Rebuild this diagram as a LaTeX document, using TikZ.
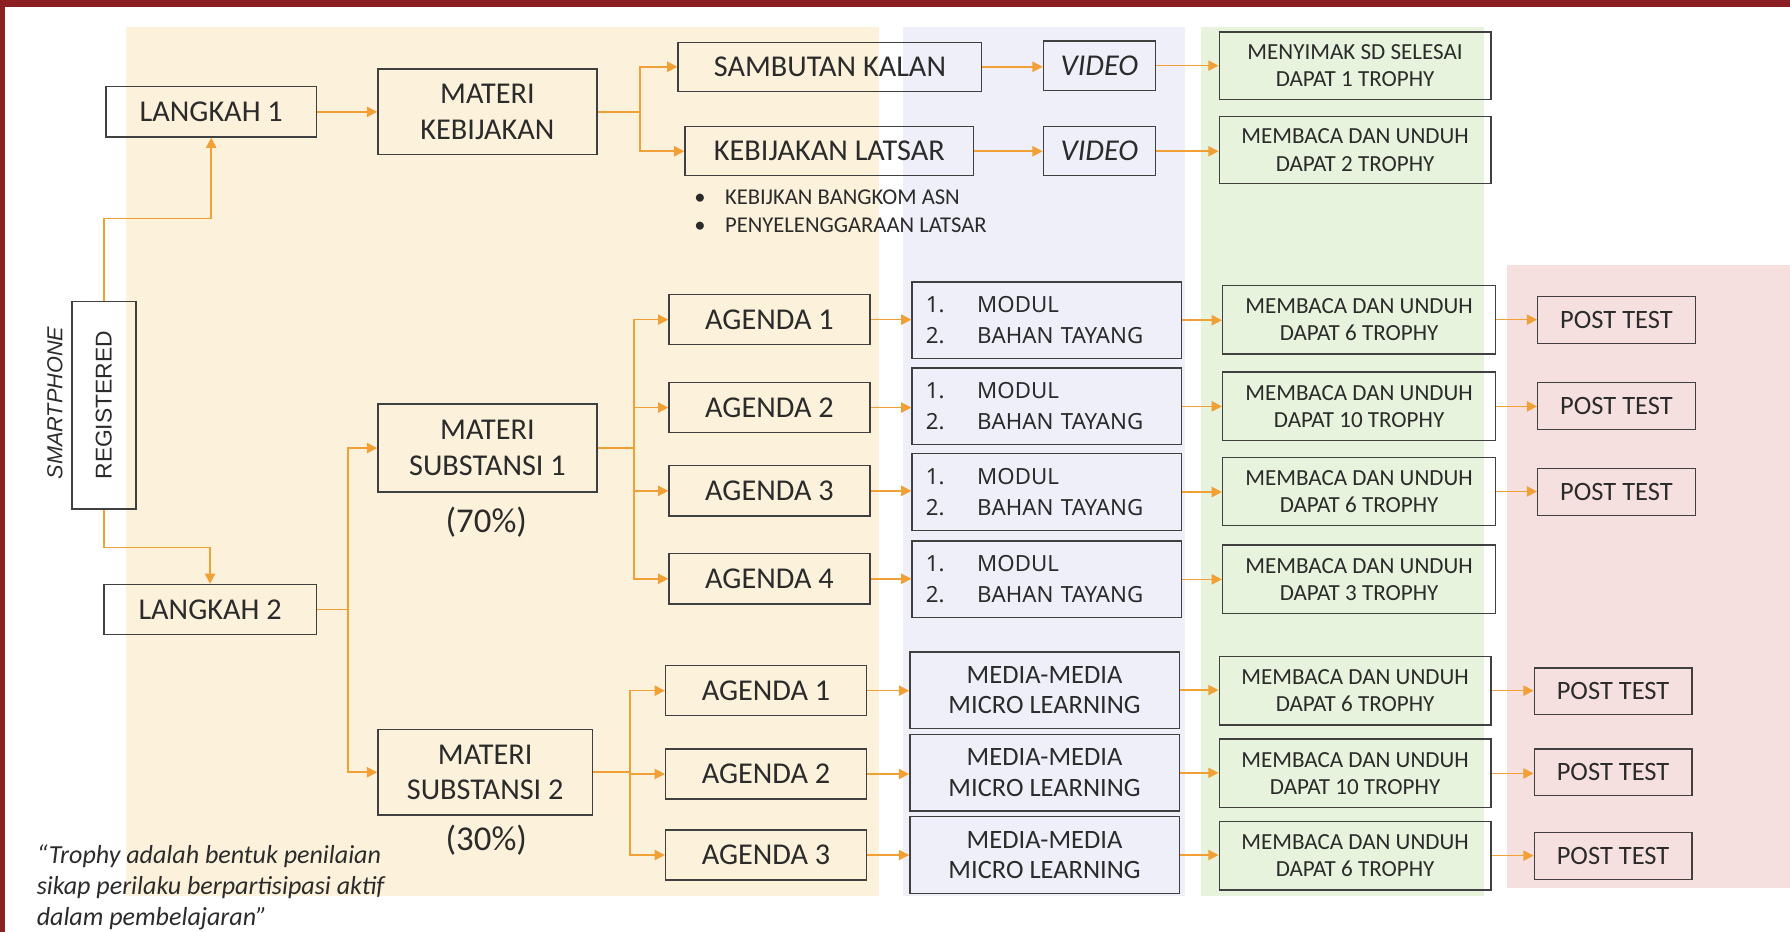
\documentclass[tikz,border=0pt]{standalone}
\usepackage{fontspec}
\setmainfont{Carlito}
\newfontfamily\arialf{Liberation Sans}
\newfontfamily\segoef{Noto Sans}
\usetikzlibrary{arrows.meta,calc}
\definecolor{bordred}{HTML}{8A1F24}
\definecolor{cream}{HTML}{FCF2DC}
\definecolor{lav}{HTML}{EFEFFA}
\definecolor{grn}{HTML}{E7F3DC}
\definecolor{pnk}{HTML}{F5DFDF}
\definecolor{orng}{HTML}{F0A035}
\definecolor{boxc}{HTML}{404040}
\definecolor{txt}{HTML}{2B2B2B}
\tikzset{
  box/.style={draw=boxc, line width=1.2pt, inner sep=0pt, align=center, text=txt},
  bigt/.style={font=\fontsize{26.5}{31}\selectfont},
  vidt/.style={font=\fontsize{26.5}{31}\selectfont\itshape},
  trot/.style={font=\fontsize{20.2}{24}\selectfont},
  medt/.style={font=\fontsize{23.2}{27}\selectfont},
  conn/.style={draw=orng, line width=1.4pt, -{Triangle[length=9pt,width=9pt]}},
  lbl/.style={text=txt, inner sep=0pt},
}
\begin{document}
\begin{tikzpicture}[x=1pt,y=-1pt]
\useasboundingbox (0,0) rectangle (1568,816);
\fill[white] (0,0) rectangle (1568,816);
% panels
\fill[cream] (110,24) rectangle (770,785);
\fill[lav] (791,24) rectangle (1038,785);
\fill[grn] (1052,24) rectangle (1300,785);
\fill[pnk] (1320,232) rectangle (1568,778);
% frame
\fill[bordred] (0,0) rectangle (1568,6);
\fill[bordred] (0,0) rectangle (4.5,816);

% left column
\node[box, minimum width=56pt, minimum height=182pt] (reg) at (91,355) {};
\node[lbl, rotate=90, font=\arialf\fontsize{20}{24}\selectfont] (regt) at (91,355) {REGISTERED};
\node[lbl, rotate=90, font=\arialf\itshape\fontsize{19}{22}\selectfont] (smart) at (48,353) {SMARTPHONE};
\node[box, bigt, minimum width=184pt, minimum height=44pt] (l1) at (185,98) {LANGKAH 1};
\node[box, bigt, minimum width=186pt, minimum height=44pt] (l2) at (184,534) {LANGKAH 2};

% materi
\node[box, bigt, minimum width=192pt, minimum height=75pt] (mk) at (427,98) {MATERI\\KEBIJAKAN};
\node[box, bigt, minimum width=192pt, minimum height=77pt] (ms1) at (427,392.5) {MATERI\\SUBSTANSI 1};
\node[box, bigt, minimum width=188pt, minimum height=75pt] (ms2) at (425,676.5) {MATERI\\SUBSTANSI 2};
\node[lbl, font=\fontsize{30.5}{34}\selectfont] (p70) at (426,457) {(70\%)};
\node[lbl, font=\fontsize{30.5}{34}\selectfont] (p30) at (426,736) {(30\%)};

% kebijakan row
\node[box, bigt, minimum width=266pt, minimum height=43pt] (sk) at (727,58.5) {SAMBUTAN KALAN};
\node[box, bigt, minimum width=253pt, minimum height=43pt] (kl) at (726.5,132.5) {KEBIJAKAN LATSAR};
\node[box, vidt, minimum width=98pt, minimum height=43pt] (v1) at (963,57.5) {VIDEO};
\node[box, vidt, minimum width=98pt, minimum height=43pt] (v2) at (963,132.5) {VIDEO};
\node[box, trot, minimum width=238pt, minimum height=59pt] (t1) at (1187,57.5) {MENYIMAK SD SELESAI\\DAPAT 1 TROPHY};
\node[box, trot, minimum width=238pt, minimum height=59pt] (t2) at (1187,131.5) {MEMBACA DAN UNDUH\\DAPAT 2 TROPHY};
\node[lbl, anchor=west, align=left, font=\fontsize{19.8}{24}\selectfont] (bul) at (608,185) {\makebox[27pt][l]{\textbullet}KEBIJKAN BANGKOM ASN\\\makebox[27pt][l]{\textbullet}PENYELENGGARAAN LATSAR};

% substansi 1
\foreach \n/\y in {1/280,2/357,3/430,4/507}{
  \node[box, bigt, minimum width=176pt, minimum height=44pt] (a\n) at (674,\y) {AGENDA \n};
}
\foreach \n/\y in {1/280.5,2/356,3/431,4/507.5}{
  \node[box, font=\segoef\fontsize{19.5}{27}\selectfont, minimum height=67pt, text width=212pt, inner xsep=12pt, align=left] (m\n) at (917,\y) {\makebox[45pt][l]{1.}MODUL\\\makebox[45pt][l]{2.}BAHAN TAYANG};
}
\foreach \n/\y/\k in {1/280/6,2/356/10,3/430.5/6,4/507.5/3}{
  \node[box, trot, minimum width=239pt, minimum height=60pt] (r\n) at (1190.5,\y) {MEMBACA DAN UNDUH\\DAPAT \k{} TROPHY};
}
\foreach \n/\y in {1/280.5,2/355.5,3/431}{
  \node[box, medt, minimum width=138pt, minimum height=41pt] (p\n) at (1416,\y) {POST TEST};
}

% substansi 2
\foreach \n/\y in {1/605,2/678,3/749}{
  \node[box, bigt, minimum width=176pt, minimum height=44pt] (b\n) at (671,\y) {AGENDA \n};
}
\foreach \n/\y in {1/604.5,2/677,3/749}{
  \node[box, medt, minimum width=236pt, minimum height=67pt] (mm\n) at (915,\y) {MEDIA-MEDIA\\MICRO LEARNING};
}
\foreach \n/\y/\k in {1/605/6,2/677.5/10,3/749.5/6}{
  \node[box, trot, minimum width=238pt, minimum height=60pt] (s\n) at (1187,\y) {MEMBACA DAN UNDUH\\DAPAT \k{} TROPHY};
}
\foreach \n/\y in {1/605.5,2/676.5,3/750}{
  \node[box, medt, minimum width=138pt, minimum height=41pt] (q\n) at (1413,\y) {POST TEST};
}

% quote
\node[lbl, anchor=north west, align=left, font=\itshape\fontsize{22.8}{27}\selectfont] (quote) at (32,740) {“Trophy adalah bentuk penilaian\\sikap perilaku berpartisipasi aktif\\dalam pembelajaran”};

% connectors
\draw[conn] (reg.north) -- ++(0,-72) -| (l1.south);
\draw[conn] (reg.south) -- ++(0,33) -| (l2.north);
\draw[conn] (l1.east) -- (l1.east -| mk.west);
\draw[conn] (mk.east) -- ++(37,0) |- (sk.west);
\draw[conn] (mk.east) -- ++(37,0) |- (kl.west);
\draw[conn] (sk.east) -- (sk.east -| v1.west);
\draw[conn] (kl.east) -- (kl.east -| v2.west);
\draw[conn] (v1.east) -- (v1.east -| t1.west);
\draw[conn] (v2.east) -- (v2.east -| t2.west);
\draw[conn] (l2.east) -- ++(27,0) |- (ms1.west);
\draw[conn] (l2.east) -- ++(27,0) |- (ms2.west);
\foreach \n in {1,2,3,4}{
  \draw[conn] (ms1.east) -- ++(32,0) |- (a\n.west);
  \draw[conn] (a\n.east) -- (a\n.east -| m\n.west);
  \draw[conn] (m\n.east) -- (m\n.east -| r\n.west);
}
\foreach \n in {1,2,3}{
  \draw[conn] (r\n.east) -- (r\n.east -| p\n.west);
  \draw[conn] (ms2.east) -- ++(32,0) |- (b\n.west);
  \draw[conn] (b\n.east) -- (b\n.east -| mm\n.west);
  \draw[conn] (mm\n.east) -- (mm\n.east -| s\n.west);
  \draw[conn] (s\n.east) -- (s\n.east -| q\n.west);
}
\end{tikzpicture}
\end{document}
